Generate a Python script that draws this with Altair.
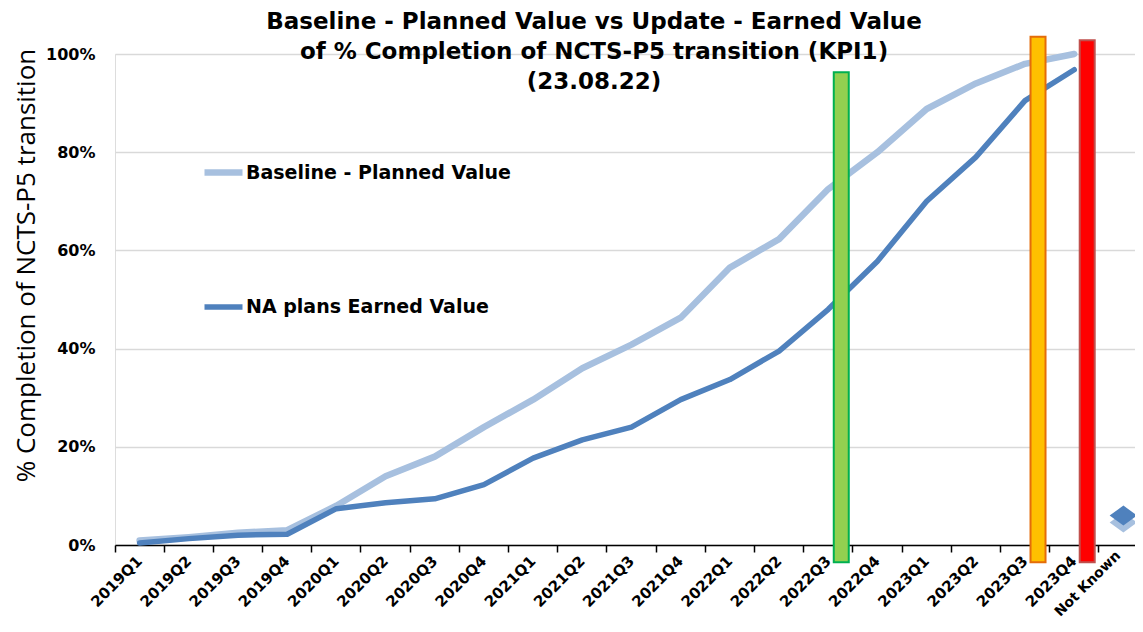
import altair as alt
import pandas as pd

# ---- data ----
categories = ["2019Q1", "2019Q2", "2019Q3", "2019Q4", "2020Q1", "2020Q2", "2020Q3",
              "2020Q4", "2021Q1", "2021Q2", "2021Q3", "2021Q4", "2022Q1", "2022Q2",
              "2022Q3", "2022Q4", "2023Q1", "2023Q2", "2023Q3", "2023Q4", "Not Known"]
baseline_planned = [0.9, 1.6, 2.5, 3.0, 8.0, 14.0, 18.0, 24.0, 29.6, 36.0, 40.8, 46.3,
                    56.5, 62.3, 72.5, 80.0, 88.8, 94.0, 98.0, 100.0]
earned_value = [0.4, 1.3, 2.0, 2.2, 7.4, 8.6, 9.4, 12.3, 17.7, 21.4, 24.0, 29.6,
                33.7, 39.5, 48.0, 57.8, 70.0, 79.0, 90.5, 96.8]
series_names = ["Baseline - Planned Value", "NA plans Earned Value"]
not_known_category = ["Not Known"]
not_known_value = [6.0]
marker_categories = ["2022Q3", "2023Q3", "2023Q4"]
marker_names = ["green", "orange", "red"]
marker_top = [96.3, 103.5, 102.8]
marker_bottom = [-3.5, -3.5, -3.5]

title_lines = ["Baseline - Planned Value vs Update - Earned Value",
               "of % Completion of NCTS-P5 transition (KPI1)",
               "(23.08.22)"]

# ---- styles ----
BOLD_FONT = "DejaVu Sans"
FONT = "Open Sans"
series_colors = ["#a7c0df", "#4f81bd"]
series_widths = [6.5, 5.5]
marker_fill = ["#92d050", "#ffc000", "#ff0000"]
marker_stroke = ["#00b050", "#e46c0a", "#c0504d"]

lines_df = pd.DataFrame({
    "category": categories[:len(baseline_planned)] * 2,
    "value": baseline_planned + earned_value,
    "series": [series_names[0]] * len(baseline_planned) + [series_names[1]] * len(earned_value),
})
bars_df = pd.DataFrame({"category": marker_categories, "name": marker_names,
                        "top": marker_top, "bottom": marker_bottom})
nk_df = pd.DataFrame({"category": not_known_category, "value": not_known_value})
title_df = pd.DataFrame({"t": ["\n".join(title_lines)]})

x_scale = alt.Scale(domain=categories, range=[0, 1033], paddingInner=0, paddingOuter=0)
y_scale = alt.Scale(domain=[0, 100], nice=False)

last_test = "datum.label == 'Not Known'"
x_axis = alt.Axis(title=None, labelAngle=-45, labelAlign="right",
                  labelBaseline={"condition": {"test": last_test, "value": "bottom"}, "value": "middle"},
                  labelFont=BOLD_FONT,
                  labelFontSize={"condition": {"test": last_test, "value": 14}, "value": 15},
                  labelFontWeight="bold", labelColor="black",
                  labelOverlap=False, labelPadding=6, bandPosition=0,
                  domainColor="black", domainWidth=1.5, tickColor="black", tickSize=7,
                  tickWidth=1.5, grid=False)
y_axis = alt.Axis(title="% Completion of NCTS-P5 transition", values=[0, 20, 40, 60, 80, 100],
                  labelExpr="datum.value + '%'", labelFont=BOLD_FONT, labelFontSize=16,
                  labelFontWeight="bold", labelColor="black", labelPadding=20,
                  domain=False, ticks=False, grid=True, gridColor="#d9d9d9", gridWidth=1.5,
                  titleFont=FONT, titleFontSize=26, titleFontWeight="normal", titleColor="black",
                  titlePadding=6, titleY=211)

lines = alt.Chart(lines_df).mark_line(strokeJoin="round", strokeCap="round").encode(
    x=alt.X("category:N", scale=x_scale, axis=x_axis, sort=categories),
    y=alt.Y("value:Q", scale=y_scale, axis=y_axis),
    color=alt.Color("series:N", scale=alt.Scale(domain=series_names, range=series_colors),
                    legend=alt.Legend(title=None, orient="none", legendX=86, legendY=96,
                                      direction="vertical", symbolType="stroke",
                                      symbolSize=1444, symbolStrokeWidth=6,
                                      labelFont=BOLD_FONT, labelFontSize=19, labelFontWeight="bold",
                                      labelColor="black", labelOffset=0, rowPadding=99,
                                      labelLimit=400)),
    strokeWidth=alt.StrokeWidth("series:N", scale=alt.Scale(domain=series_names, range=series_widths),
                                legend=None),
    order=alt.Order("series:N"),
)

bars = alt.Chart(bars_df).mark_bar(size=15, xOffset=13, strokeWidth=2).encode(
    x=alt.X("category:N", scale=x_scale, sort=categories),
    y=alt.Y("top:Q", scale=y_scale),
    y2="bottom:Q",
    fill=alt.Fill("name:N", scale=alt.Scale(domain=marker_names, range=marker_fill), legend=None),
    stroke=alt.Stroke("name:N", scale=alt.Scale(domain=marker_names, range=marker_stroke), legend=None),
)

diamond_path = "M -1 0 L 0 -0.72 L 1 0 L 0 0.72 Z"
nk_shadow = alt.Chart(nk_df).mark_point(shape=diamond_path, filled=True, size=760, yOffset=7,
                                        color="#a7c0df", opacity=1).encode(
    x=alt.X("category:N", scale=x_scale, sort=categories),
    y=alt.Y("value:Q", scale=y_scale),
)
nk_point = alt.Chart(nk_df).mark_point(shape=diamond_path, filled=True, size=760,
                                       color="#4f81bd", opacity=1).encode(
    x=alt.X("category:N", scale=x_scale, sort=categories),
    y=alt.Y("value:Q", scale=y_scale),
)

title = alt.Chart(title_df).mark_text(font=BOLD_FONT, fontSize=23, fontWeight="bold", color="black",
                                      lineBreak="\n", lineHeight=30, align="center",
                                      baseline="top").encode(
    text="t:N", x=alt.value(479), y=alt.value(-43))

chart = alt.layer(lines, bars, nk_shadow, nk_point, title).properties(
    width=1020, height=491,
    autosize=alt.AutoSizeParams(type="none"),
    padding={"left": 107, "top": 46, "right": 0, "bottom": 74},
).configure_view(stroke=None).configure(background="white")

chart.save("out.html", embed_options={"renderer": "svg", "actions": False})
